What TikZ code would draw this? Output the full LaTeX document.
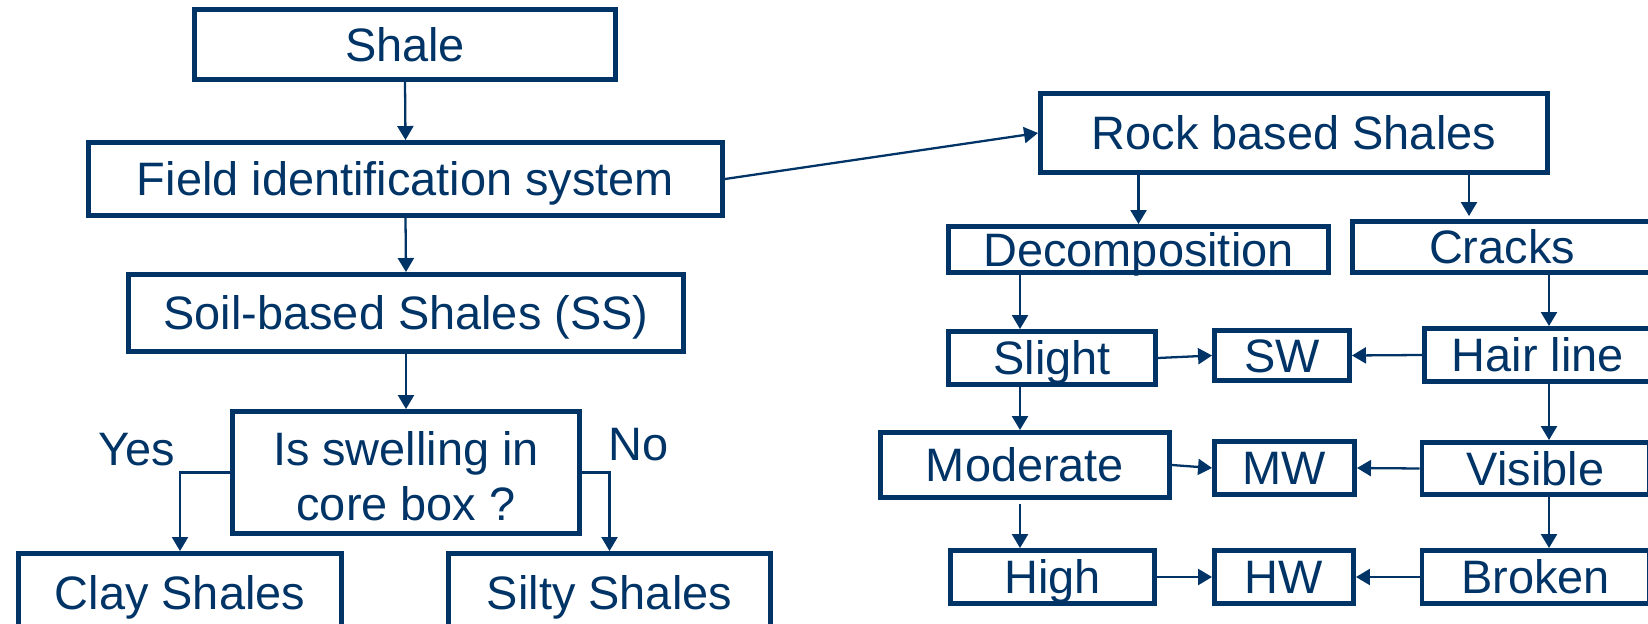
\documentclass[tikz,border=0pt]{standalone}
\usepackage{fontspec}
\setmainfont{Liberation Sans}
\usetikzlibrary{arrows.meta}
\definecolor{navy}{RGB}{0,51,102}
\tikzset{
  box/.style 2 args={draw=navy, line width=2.8pt, text=navy, inner sep=0pt,
    minimum width={#1*0.02cm}, minimum height={#2*0.02cm},
    font=\fontsize{26.7}{32}\selectfont, text height=19.1pt, text depth=0pt},
  lbl/.style={text=navy, inner sep=0pt, font=\fontsize{26.7}{32}\selectfont,
    text height=19.1pt, text depth=0pt},
  arr/.style={draw=navy, line width=1.3pt, -{Triangle[length=0.28cm,width=0.32cm]}}
}
\begin{document}
\begin{tikzpicture}[x=0.02cm, y=-0.02cm]
\useasboundingbox (0,0) rectangle (1648,624);
\clip (0,0) rectangle (1648,624);
% left branch
\node[box={421}{70}] (shale) at (405,44.5) {Shale};
\node[box={634}{73}] (field) at (405.5,179) {Field identification system};
\node[box={555}{77}] (soil) at (406,313) {Soil-based Shales (SS)};
\node[box={347}{122}] (swell) at (406,472.5) {};
\node[lbl] (swellA) at (406,448.7) {Is swelling in};
\node[lbl] (swellB) at (406,504) {core box ?};
\node[box={323}{78}] (clay) at (180,592.5) {Clay Shales};
\node[box={322}{78}] (silty) at (609.5,592.5) {Silty Shales};
\node[lbl] (yes) at (137,448.7) {Yes};
\node[lbl] (no) at (638.5,443.7) {No};
% right branch
\node[box={507}{79}] (rock) at (1294,133) {Rock based Shales};
\node[box={380}{46}] (decomp) at (1138.5,249.5) {Decomposition};
\node[box={299}{51}] (cracks) at (1502,247) {Cracks};
\node[box={207}{53}] (slight) at (1052,358) {Slight};
\node[box={135}{50}] (sw) at (1282,355.5) {SW};
\node[box={227}{53}] (hair) at (1538,355) {Hair line};
\node[box={289}{65}] (moderate) at (1025,465) {Moderate};
\node[box={140}{53}] (mw) at (1284.5,468) {MW};
\node[box={227}{52}] (visible) at (1535.5,468.5) {Visible};
\node[box={204}{53}] (high) at (1052.5,577) {High};
\node[box={139}{53}] (hw) at (1284,577) {HW};
\node[box={227}{53}] (broken) at (1535.5,577) {Broken};
\coordinate (cx) at (1469,0);
\coordinate (lx) at (1020,0);
\coordinate (rx) at (1549,0);
% connectors left
\draw[arr] (shale.south) -- (field.north);
\draw[arr] (field.south) -- (soil.north);
\draw[arr] (soil.south) -- (swell.north);
\draw[arr] (swell.west) -| (clay.north);
\draw[arr] (swell.east) -| (silty.north);
\draw[arr] (field.east) -- (rock.west);
% connectors right
\draw[arr] (rock.south -| decomp.north) -- (decomp.north);
\draw[arr] (rock.south -| cx) -- ([yshift=0.06cm]cracks.north -| cx);
\draw[arr] (decomp.south -| lx) -- (slight.north -| lx);
\draw[arr] (slight.south -| lx) -- (moderate.north -| lx);
\draw[arr, shorten <=0.08cm] (moderate.south -| lx) -- (high.north -| lx);
\draw[arr] (cracks.south -| rx) -- (hair.north -| rx);
\draw[arr] (hair.south -| rx) -- (visible.north -| rx);
\draw[arr] (visible.south -| rx) -- (broken.north -| rx);
\draw[arr] (slight.east) -- (sw.west);
\draw[arr] (hair.west) -- (sw.east);
\draw[arr] (moderate.east) -- (mw.west);
\draw[arr] (visible.west) -- (mw.east);
\draw[arr] (high.east) -- (hw.west);
\draw[arr] (broken.west) -- (hw.east);
\end{tikzpicture}
\end{document}
